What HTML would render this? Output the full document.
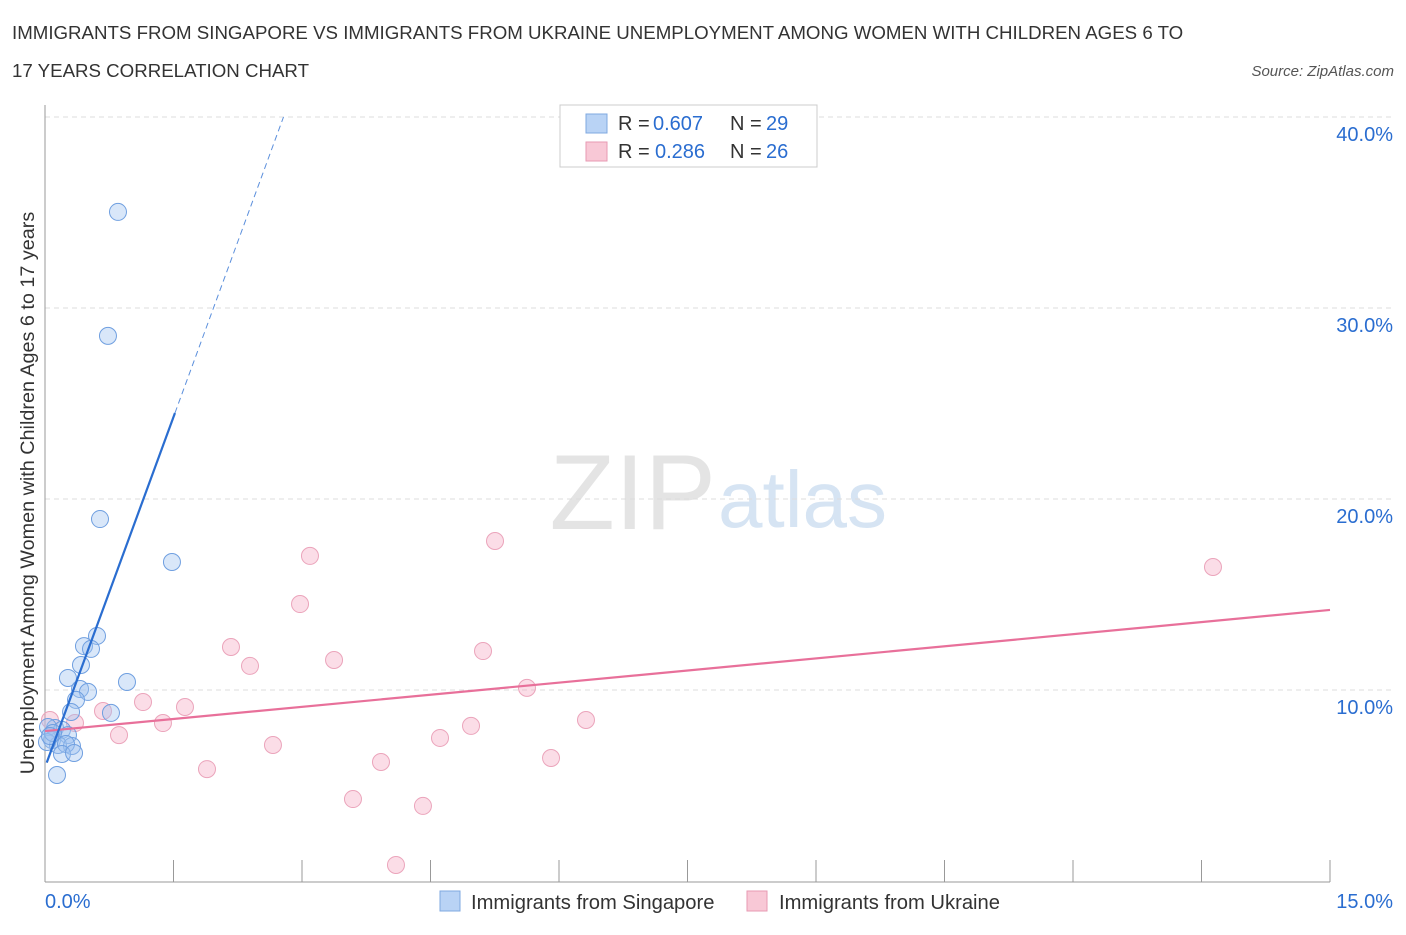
<!DOCTYPE html>
<html><head><meta charset="utf-8"><style>
body{margin:0;background:#fff;font-family:"Liberation Sans",sans-serif;}
svg text{font-family:"Liberation Sans",sans-serif;}
</style></head><body>
<svg id="c" width="1406" height="930">
<text x="12" y="39" font-size="18.7" fill="#333">IMMIGRANTS FROM SINGAPORE VS IMMIGRANTS FROM UKRAINE UNEMPLOYMENT AMONG WOMEN WITH CHILDREN AGES 6 TO</text>
<text x="12" y="77" font-size="18.7" fill="#333">17 YEARS CORRELATION CHART</text>
<text x="1394" y="76" font-size="15" fill="#555" font-style="italic" text-anchor="end">Source: ZipAtlas.com</text>
<text x="716" y="529" font-size="107" fill="#e4e4e4" text-anchor="end" font-family="Liberation Serif">ZIP</text>
<text x="718" y="527" font-size="80" fill="#d6e4f3">atlas</text>
<text transform="translate(34,493) rotate(-90)" font-size="19.8" fill="#333" text-anchor="middle">Unemployment Among Women with Children Ages 6 to 17 years</text>
<g id="grid"></g><g id="marks"></g>
<g>
<rect x="560" y="105" width="257" height="62" fill="#fff" stroke="#ccc"/>
<rect x="586" y="114" width="21" height="19" fill="#b9d3f5" stroke="#7fa8e0"/>
<text x="618" y="130" font-size="20" fill="#333">R =</text>
<text x="653" y="130" font-size="20" fill="#2a6dd0">0.607</text>
<text x="730" y="130" font-size="20" fill="#333">N =</text>
<text x="766" y="130" font-size="20" fill="#2a6dd0">29</text>
<rect x="586" y="142" width="21" height="19" fill="#f8c8d6" stroke="#e79ab3"/>
<text x="618" y="158" font-size="20" fill="#333">R =</text>
<text x="655" y="158" font-size="20" fill="#2a6dd0">0.286</text>
<text x="730" y="158" font-size="20" fill="#333">N =</text>
<text x="766" y="158" font-size="20" fill="#2a6dd0">26</text>
</g>
<g>
<rect x="440" y="891" width="20" height="20" fill="#b9d3f5" stroke="#7fa8e0"/>
<text x="471" y="909" font-size="20.2" fill="#333">Immigrants from Singapore</text>
<rect x="747" y="891" width="20" height="20" fill="#f8c8d6" stroke="#e79ab3"/>
<text x="779" y="909" font-size="20.2" fill="#333">Immigrants from Ukraine</text>
</g>
</svg>
<script>
const singX=[0.852,0.735,0.642,1.482,0.607,0.455,0.537,0.420,0.268,0.957,0.409,0.502,0.362,0.770,0.304,0.117,0.198,0.035,0.268,0.082,0.152,0.315,0.245,0.198,0.339,0.140,0.023,0.093,0.058];
const singY=[35.03,28.54,18.95,16.70,12.83,12.30,12.15,11.31,10.63,10.42,10.05,9.90,9.48,8.80,8.85,8.01,7.91,8.06,7.64,7.38,7.12,7.07,7.17,6.65,6.70,5.55,7.28,7.75,7.59];
const ukrX=[0.058,0.350,0.677,0.864,1.144,1.377,1.634,1.891,2.171,2.393,2.661,2.977,3.093,3.374,3.595,3.922,4.097,4.412,4.611,4.973,5.113,5.253,5.626,5.907,6.315,13.634];
const ukrY=[8.43,8.27,8.90,7.64,9.37,8.27,9.11,5.86,12.25,11.26,7.12,14.50,17.02,11.57,4.29,6.23,0.84,3.93,7.49,8.12,12.04,17.80,10.11,6.44,8.43,16.44];
const yTicks=[10,20,30,40];
const yTickLabels=["10.0%","20.0%","30.0%","40.0%"];
const singTrend={slope:12.23,intercept:5.95};
const ukrTrend={slope:0.4227,intercept:7.85};
const NS="http://www.w3.org/2000/svg";
const sx=v=>45+v/15*1285, sy=v=>881-v/10*191;
function mk(t,a,p){const e=document.createElementNS(NS,t);for(const k in a)e.setAttribute(k,a[k]);p.appendChild(e);return e;}
const g=document.getElementById('grid'), m=document.getElementById('marks');
yTicks.forEach((t,i)=>{
 const l=mk('line',{x1:45,x2:1392,y1:sy(t),y2:sy(t),stroke:'#ddd','stroke-dasharray':'5,4'},g);
 
 
 const tx=mk('text',{x:1393,y:sy(t)+24,'font-size':20,fill:'#2a6dd0','text-anchor':'end'},g);
 tx.textContent=yTickLabels[i];
 
 
});
const ax=mk('line',{x1:45,x2:45,y1:105,y2:882,stroke:'#999'},g);


const bx=mk('line',{x1:45,x2:1330,y1:882,y2:882,stroke:'#999'},g);


for(let i=0;i<=10;i++){const x=sx(i*1.5);const t=mk('line',{x1:x,x2:x,y1:860,y2:882,stroke:'#999'},g);
 
 }
[["0.0%",45,'start'],["15.0%",1393,'end']].forEach(([s,x,a])=>{const t=mk('text',{x:x,y:908,'font-size':20,fill:'#2a6dd0','text-anchor':a},g);t.textContent=s;
 
 });
ukrX.forEach((x,i)=>{const c=mk('circle',{cx:sx(x),cy:sy(ukrY[i]),r:8.5,fill:'rgba(245,170,195,0.4)',stroke:'#eba4bb','stroke-width':1},m);
 
 });
singX.forEach((x,i)=>{const c=mk('circle',{cx:sx(x),cy:sy(singY[i]),r:8.5,fill:'rgba(160,195,240,0.4)',stroke:'#6f9fe0','stroke-width':1},m);
 
 });
const ut=mk('line',{x1:sx(0),y1:sy(ukrTrend.intercept),x2:sx(15),y2:sy(ukrTrend.intercept+15*ukrTrend.slope),stroke:'#e8709a','stroke-width':2.2},m);


const xs=1.517, xe=(40-singTrend.intercept)/singTrend.slope;
const st=mk('line',{x1:sx(0.02),y1:sy(singTrend.intercept+0.02*singTrend.slope),x2:sx(xs),y2:sy(singTrend.intercept+xs*singTrend.slope),stroke:'#2a6dd0','stroke-width':2.2},m);


const sd=mk('line',{x1:sx(xs),y1:sy(singTrend.intercept+xs*singTrend.slope),x2:sx(xe),y2:sy(40),stroke:'#5b8fdc','stroke-width':1,'stroke-dasharray':'6,4'},m);


</script>
</body></html>
